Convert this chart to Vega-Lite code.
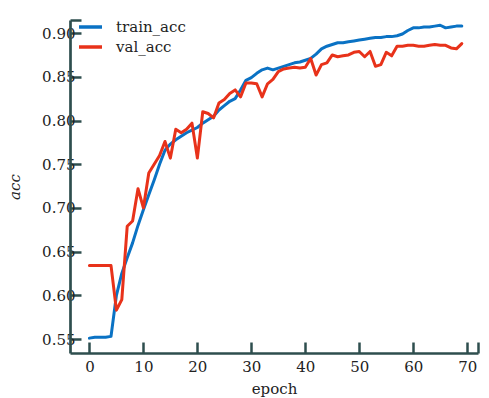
{
  "$schema": "https://vega.github.io/schema/vega-lite/v6.json",
  "width": 408,
  "height": 333,
  "autosize": {"type": "none"},
  "padding": {"left": 70, "top": 20, "right": 11, "bottom": 45},
  "config": {
    "font": "DejaVu Serif",
    "view": {"stroke": null},
    "axis": {
      "grid": false,
      "domainColor": "#2e4e4e",
      "domainWidth": 2.7,
      "tickColor": "#2e4e4e",
      "tickWidth": 2.5,
      "tickSize": -11,
      "labelFont": "DejaVu Serif",
      "labelFontSize": 15,
      "labelColor": "#222222",
      "titleFont": "DejaVu Serif",
      "titleFontSize": 15,
      "titleFontWeight": "normal",
      "titleColor": "#222222"
    },
    "legend": {"labelFont": "DejaVu Serif"}
  },
  "data": {
    "values": [
      {"epoch": 0, "train_acc": 0.551, "val_acc": 0.634},
      {"epoch": 1, "train_acc": 0.552, "val_acc": 0.634},
      {"epoch": 2, "train_acc": 0.552, "val_acc": 0.634},
      {"epoch": 3, "train_acc": 0.552, "val_acc": 0.634},
      {"epoch": 4, "train_acc": 0.553, "val_acc": 0.634},
      {"epoch": 5, "train_acc": 0.600, "val_acc": 0.583},
      {"epoch": 6, "train_acc": 0.625, "val_acc": 0.595},
      {"epoch": 7, "train_acc": 0.643, "val_acc": 0.679},
      {"epoch": 8, "train_acc": 0.660, "val_acc": 0.685},
      {"epoch": 9, "train_acc": 0.680, "val_acc": 0.722},
      {"epoch": 10, "train_acc": 0.698, "val_acc": 0.700},
      {"epoch": 11, "train_acc": 0.715, "val_acc": 0.740},
      {"epoch": 12, "train_acc": 0.732, "val_acc": 0.750},
      {"epoch": 13, "train_acc": 0.750, "val_acc": 0.760},
      {"epoch": 14, "train_acc": 0.766, "val_acc": 0.776},
      {"epoch": 15, "train_acc": 0.773, "val_acc": 0.757},
      {"epoch": 16, "train_acc": 0.778, "val_acc": 0.790},
      {"epoch": 17, "train_acc": 0.782, "val_acc": 0.786},
      {"epoch": 18, "train_acc": 0.786, "val_acc": 0.790},
      {"epoch": 19, "train_acc": 0.789, "val_acc": 0.797},
      {"epoch": 20, "train_acc": 0.792, "val_acc": 0.757},
      {"epoch": 21, "train_acc": 0.797, "val_acc": 0.810},
      {"epoch": 22, "train_acc": 0.801, "val_acc": 0.808},
      {"epoch": 23, "train_acc": 0.805, "val_acc": 0.803},
      {"epoch": 24, "train_acc": 0.812, "val_acc": 0.820},
      {"epoch": 25, "train_acc": 0.817, "val_acc": 0.824},
      {"epoch": 26, "train_acc": 0.822, "val_acc": 0.831},
      {"epoch": 27, "train_acc": 0.825, "val_acc": 0.835},
      {"epoch": 28, "train_acc": 0.835, "val_acc": 0.827},
      {"epoch": 29, "train_acc": 0.846, "val_acc": 0.843},
      {"epoch": 30, "train_acc": 0.849, "val_acc": 0.843},
      {"epoch": 31, "train_acc": 0.854, "val_acc": 0.842},
      {"epoch": 32, "train_acc": 0.858, "val_acc": 0.827},
      {"epoch": 33, "train_acc": 0.860, "val_acc": 0.842},
      {"epoch": 34, "train_acc": 0.858, "val_acc": 0.847},
      {"epoch": 35, "train_acc": 0.860, "val_acc": 0.856},
      {"epoch": 36, "train_acc": 0.862, "val_acc": 0.859},
      {"epoch": 37, "train_acc": 0.864, "val_acc": 0.860},
      {"epoch": 38, "train_acc": 0.866, "val_acc": 0.861},
      {"epoch": 39, "train_acc": 0.867, "val_acc": 0.860},
      {"epoch": 40, "train_acc": 0.869, "val_acc": 0.861},
      {"epoch": 41, "train_acc": 0.871, "val_acc": 0.871},
      {"epoch": 42, "train_acc": 0.876, "val_acc": 0.852},
      {"epoch": 43, "train_acc": 0.882, "val_acc": 0.864},
      {"epoch": 44, "train_acc": 0.885, "val_acc": 0.866},
      {"epoch": 45, "train_acc": 0.887, "val_acc": 0.875},
      {"epoch": 46, "train_acc": 0.889, "val_acc": 0.873},
      {"epoch": 47, "train_acc": 0.889, "val_acc": 0.874},
      {"epoch": 48, "train_acc": 0.890, "val_acc": 0.875},
      {"epoch": 49, "train_acc": 0.891, "val_acc": 0.878},
      {"epoch": 50, "train_acc": 0.892, "val_acc": 0.879},
      {"epoch": 51, "train_acc": 0.893, "val_acc": 0.873},
      {"epoch": 52, "train_acc": 0.894, "val_acc": 0.879},
      {"epoch": 53, "train_acc": 0.895, "val_acc": 0.862},
      {"epoch": 54, "train_acc": 0.895, "val_acc": 0.864},
      {"epoch": 55, "train_acc": 0.896, "val_acc": 0.878},
      {"epoch": 56, "train_acc": 0.896, "val_acc": 0.874},
      {"epoch": 57, "train_acc": 0.897, "val_acc": 0.885},
      {"epoch": 58, "train_acc": 0.899, "val_acc": 0.885},
      {"epoch": 59, "train_acc": 0.903, "val_acc": 0.886},
      {"epoch": 60, "train_acc": 0.906, "val_acc": 0.886},
      {"epoch": 61, "train_acc": 0.906, "val_acc": 0.885},
      {"epoch": 62, "train_acc": 0.907, "val_acc": 0.885},
      {"epoch": 63, "train_acc": 0.907, "val_acc": 0.886},
      {"epoch": 64, "train_acc": 0.908, "val_acc": 0.887},
      {"epoch": 65, "train_acc": 0.909, "val_acc": 0.886},
      {"epoch": 66, "train_acc": 0.906, "val_acc": 0.886},
      {"epoch": 67, "train_acc": 0.907, "val_acc": 0.883},
      {"epoch": 68, "train_acc": 0.908, "val_acc": 0.882},
      {"epoch": 69, "train_acc": 0.908, "val_acc": 0.888}
    ]
  },
  "transform": [{"fold": ["train_acc", "val_acc"], "as": ["series", "acc"]}],
  "mark": {"type": "line", "strokeWidth": 3, "strokeJoin": "round", "strokeCap": "round"},
  "encoding": {
    "x": {
      "field": "epoch",
      "type": "quantitative",
      "scale": {"domain": [-3.6, 72], "nice": false, "zero": false},
      "axis": {
        "title": "epoch",
        "values": [0, 10, 20, 30, 40, 50, 60, 70, 72],
        "labelExpr": "datum.value > 71 ? '' : datum.label",
        "labelPadding": 17,
        "titlePadding": 7
      }
    },
    "y": {
      "field": "acc",
      "type": "quantitative",
      "scale": {"domain": [0.534, 0.915], "nice": false, "zero": false},
      "axis": {
        "title": "acc",
        "titleFontStyle": "italic",
        "values": [0.55, 0.6, 0.65, 0.7, 0.75, 0.8, 0.85, 0.9, 0.915],
        "labelExpr": "datum.value > 0.91 ? '' : format(datum.value, '.2f')",
        "labelPadding": 6,
        "titlePadding": 19
      }
    },
    "color": {
      "field": "series",
      "type": "nominal",
      "scale": {"domain": ["train_acc", "val_acc"], "range": ["#0a72c4", "#e8321a"]},
      "legend": {
        "title": null,
        "orient": "none",
        "legendX": 7,
        "legendY": -3,
        "symbolType": "stroke",
        "symbolSize": 529,
        "symbolStrokeWidth": 3.5,
        "clipHeight": 20,
        "rowPadding": 0,
        "labelFont": "DejaVu Serif",
        "labelFontSize": 15,
        "labelColor": "#222222",
        "labelOffset": 12
      }
    }
  }
}
